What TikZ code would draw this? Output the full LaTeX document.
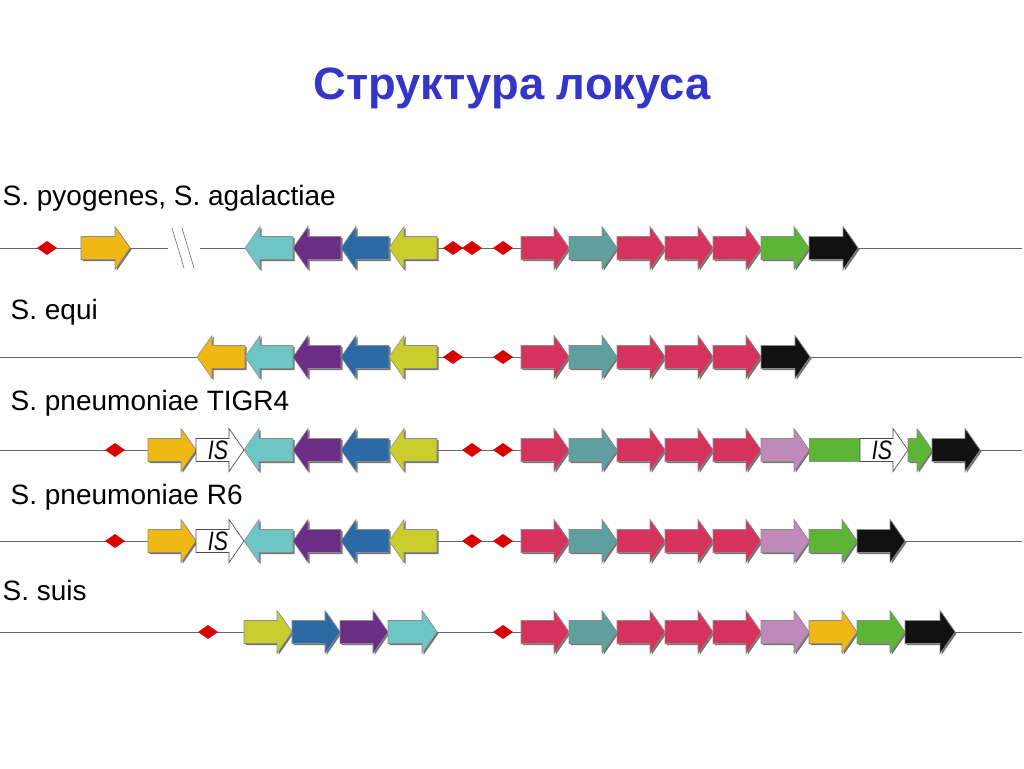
\documentclass[tikz,border=0pt]{standalone}
\usepackage{fontspec}
\setmainfont{Liberation Sans}
\usepackage{tikz}

\definecolor{gred}{HTML}{D6325E}
\definecolor{gteal}{HTML}{5E9FA0}
\definecolor{gcyan}{HTML}{6EC6C4}
\definecolor{gpurple}{HTML}{6B2D86}
\definecolor{gblue}{HTML}{2B6AA5}
\definecolor{glime}{HTML}{C9CD2E}
\definecolor{gyellow}{HTML}{F0B814}
\definecolor{ggreen}{HTML}{5DB535}
\definecolor{gpink}{HTML}{C08AB8}
\definecolor{gblack}{HTML}{111111}
\definecolor{titleblue}{HTML}{3535C8}

% forward gene: x1, x2, y, colour
\newcommand{\fgene}[4]{%
  \fill[black!55] ({#1+1.5},{#3-11.5+1.5}) -- ({#2-15+1.5},{#3-11.5+1.5}) -- ({#2-15+1.5},{#3-21.5+1.5})
     -- ({#2+1.5},{#3+1.5}) -- ({#2-15+1.5},{#3+21.5+1.5}) -- ({#2-15+1.5},{#3+11.5+1.5}) -- ({#1+1.5},{#3+11.5+1.5}) -- cycle;
  \filldraw[genebox,fill=#4] (#1,{#3-11.5}) -- ({#2-15},{#3-11.5}) -- ({#2-15},{#3-21.5})
     -- (#2,#3) -- ({#2-15},{#3+21.5}) -- ({#2-15},{#3+11.5}) -- (#1,{#3+11.5}) -- cycle;}
% reverse gene: x1, x2, y, colour
\newcommand{\rgene}[4]{%
  \fill[black!55] ({#2+1.5},{#3-11.5+1.5}) -- ({#1+15+1.5},{#3-11.5+1.5}) -- ({#1+15+1.5},{#3-21.5+1.5})
     -- ({#1+1.5},{#3+1.5}) -- ({#1+15+1.5},{#3+21.5+1.5}) -- ({#1+15+1.5},{#3+11.5+1.5}) -- ({#2+1.5},{#3+11.5+1.5}) -- cycle;
  \filldraw[genebox,fill=#4] (#2,{#3-11.5}) -- ({#1+15},{#3-11.5}) -- ({#1+15},{#3-21.5})
     -- (#1,#3) -- ({#1+15},{#3+21.5}) -- ({#1+15},{#3+11.5}) -- (#2,{#3+11.5}) -- cycle;}
% IS element: x1, x2, y
\newcommand{\iselem}[3]{%
  \filldraw[isbox] (#1,{#3-11.5}) -- ({#2-15},{#3-11.5}) -- ({#2-15},{#3-21.5})
     -- (#2,#3) -- ({#2-15},{#3+21.5}) -- ({#2-15},{#3+11.5}) -- (#1,{#3+11.5}) -- cycle;
  \node[font=\fontsize{20}{20}\selectfont\itshape,xscale=0.8] at ({(#1+#2)/2-2},#3) {IS};}
% site
\newcommand{\site}[2]{%
  \fill[red!85!black] ({#1-10},#2) -- (#1,{#2-7}) -- ({#1+10},#2) -- (#1,{#2+7}) -- cycle;}

\tikzset{
  genebox/.style={draw=black!45,line width=0.4pt},
  isbox/.style={draw=black!70,fill=white,line width=0.5pt},
  locus/.style={draw=black!60,line width=0.6pt},
  label/.style={anchor=west,font=\fontsize{21}{21}\selectfont}
}

\begin{document}
\begin{tikzpicture}[x=0.75pt,y=-0.75pt]
\useasboundingbox (0,0) rectangle (1024,768);

% Title
\node[font=\fontsize{34}{34}\selectfont\bfseries,text=titleblue] (title) at (512,88) {Структура локуса};

% ROW 1
\node[label] (lab1) at (-2,198) {S. pyogenes, S. agalactiae};
\draw[locus] (0,248) -- (1022,248);
\site{47}{248}
\fgene{81}{130}{248}{gyellow}
\fill[white] (168,228) rectangle (200,268);
\draw[black!60] (172,228) -- (184,268) (182,228) -- (194,268);
\rgene{245}{293}{248}{gcyan}
\rgene{293}{341}{248}{gpurple}
\rgene{341}{389}{248}{gblue}
\rgene{389}{437}{248}{glime}
\site{453}{248} \site{472}{248} \site{503}{248}
\fgene{521}{569}{248}{gred}
\fgene{569}{617}{248}{gteal}
\fgene{617}{665}{248}{gred}
\fgene{665}{713}{248}{gred}
\fgene{713}{761}{248}{gred}
\fgene{761}{809}{248}{ggreen}
\fgene{809}{858}{248}{gblack}

% ROW 2
\node[label] (lab2) at (6,312) {S. equi};
\draw[locus] (0,357) -- (1022,357);
\rgene{197}{245}{357}{gyellow}
\rgene{245}{293}{357}{gcyan}
\rgene{293}{341}{357}{gpurple}
\rgene{341}{389}{357}{gblue}
\rgene{389}{437}{357}{glime}
\site{453}{357} \site{503}{357}
\fgene{521}{569}{357}{gred}
\fgene{569}{617}{357}{gteal}
\fgene{617}{665}{357}{gred}
\fgene{665}{713}{357}{gred}
\fgene{713}{761}{357}{gred}
\fgene{761}{810}{357}{gblack}

% ROW 3
\node[label] (lab3) at (6,403) {S. pneumoniae TIGR4};
\draw[locus] (0,450) -- (1022,450);
\site{115}{450}
\fgene{148}{196}{450}{gyellow}
\iselem{196}{244}{450}
\rgene{244}{293}{450}{gcyan}
\rgene{293}{341}{450}{gpurple}
\rgene{341}{389}{450}{gblue}
\rgene{389}{437}{450}{glime}
\site{472}{450} \site{503}{450}
\fgene{521}{569}{450}{gred}
\fgene{569}{617}{450}{gteal}
\fgene{617}{665}{450}{gred}
\fgene{665}{713}{450}{gred}
\fgene{713}{761}{450}{gred}
\fgene{761}{809}{450}{gpink}
\filldraw[genebox,fill=ggreen] (809,438.5) rectangle (860,461.5);
\iselem{860}{908}{450}
\fgene{908}{932}{450}{ggreen}
\fgene{932}{980}{450}{gblack}

% ROW 4
\node[label] (lab4) at (6,497) {S. pneumoniae R6};
\draw[locus] (0,541) -- (1022,541);
\site{115}{541}
\fgene{148}{196}{541}{gyellow}
\iselem{196}{244}{541}
\rgene{244}{293}{541}{gcyan}
\rgene{293}{341}{541}{gpurple}
\rgene{341}{389}{541}{gblue}
\rgene{389}{437}{541}{glime}
\site{472}{541} \site{503}{541}
\fgene{521}{569}{541}{gred}
\fgene{569}{617}{541}{gteal}
\fgene{617}{665}{541}{gred}
\fgene{665}{713}{541}{gred}
\fgene{713}{761}{541}{gred}
\fgene{761}{809}{541}{gpink}
\fgene{809}{857}{541}{ggreen}
\fgene{857}{905}{541}{gblack}

% ROW 5
\node[label] (lab5) at (-2,590) {S. suis};
\draw[locus] (0,632) -- (1022,632);
\site{208}{632}
\fgene{244}{292}{632}{glime}
\fgene{292}{340}{632}{gblue}
\fgene{340}{388}{632}{gpurple}
\fgene{388}{437}{632}{gcyan}
\site{503}{632}
\fgene{521}{569}{632}{gred}
\fgene{569}{617}{632}{gteal}
\fgene{617}{665}{632}{gred}
\fgene{665}{713}{632}{gred}
\fgene{713}{761}{632}{gred}
\fgene{761}{809}{632}{gpink}
\fgene{809}{857}{632}{gyellow}
\fgene{857}{905}{632}{ggreen}
\fgene{905}{955}{632}{gblack}

\end{tikzpicture}
\end{document}
